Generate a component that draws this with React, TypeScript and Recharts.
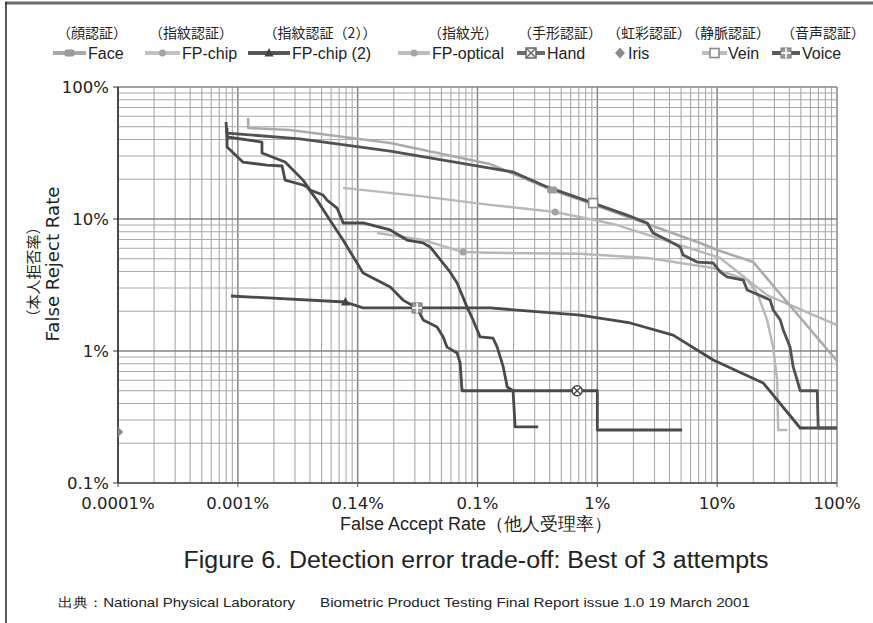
import React from 'react';
import { ComposedChart, Line, XAxis, YAxis, ReferenceLine } from 'recharts';

// ---------- axis ticks ----------
const xTicks = [0.0001, 0.001, 0.01, 0.1, 1, 10, 100];
const xTickLabels = ['0.0001%', '0.001%', '0.14%', '0.1%', '1%', '10%', '100%'];
const yTicks = [0.1, 1, 10, 100];
const yTickLabels = ['0.1%', '1%', '10%', '100%'];

// ---------- series names ----------
const seriesNames = ['Face', 'FP-chip', 'FP-chip (2)', 'FP-optical', 'Hand', 'Iris', 'Vein', 'Voice'];
const seriesJapanese = ['（顔認証）', '（指紋認証）', '（指紋認証（2））', '（指紋光）', '（手形認証）', '（虹彩認証）', '（静脈認証）', '（音声認証）'];

// ---------- series values: x = False Accept Rate (%), y = False Reject Rate (%) ----------
const faceData = [
  { x: 0.00122, y: 58.2 }, { x: 0.00122, y: 48.9 }, { x: 0.00273, y: 47.2 }, { x: 0.0187, y: 37.7 },
  { x: 0.127, y: 26.1 }, { x: 0.42, y: 16.6 }, { x: 1.06, y: 12.3 }, { x: 2.76, y: 9.01 },
  { x: 7.2, y: 6.58 }, { x: 10, y: 5.82 }, { x: 20, y: 4.72 }, { x: 100, y: 0.84 },
];
const fpChipData = [
  { x: 0.00755, y: 17.2 }, { x: 0.0332, y: 14.9 }, { x: 0.127, y: 12.8 }, { x: 0.445, y: 11.3 },
  { x: 1.355, y: 9.17 }, { x: 4.91, y: 6.35 }, { x: 10.6, y: 5.07 }, { x: 26.1, y: 2.65 }, { x: 100, y: 1.57 },
];
const fpChip2Data = [
  { x: 0.000877, y: 2.61 }, { x: 0.00785, y: 2.35 }, { x: 0.0111, y: 2.12 }, { x: 0.127, y: 2.12 },
  { x: 0.718, y: 1.87 }, { x: 1.88, y: 1.63 }, { x: 4.29, y: 1.32 }, { x: 9.27, y: 0.855 },
  { x: 24.2, y: 0.573 }, { x: 49.3, y: 0.261 }, { x: 100, y: 0.261 },
];
const fpOpticalData = [
  { x: 0.0145, y: 7.83 }, { x: 0.0352, y: 6.93 }, { x: 0.0759, y: 5.62 }, { x: 0.127, y: 5.55 },
  { x: 0.718, y: 5.45 }, { x: 2.61, y: 5.07 }, { x: 4.91, y: 4.64 }, { x: 9.27, y: 4.25 },
  { x: 17.8, y: 3.45 }, { x: 21.6, y: 2.75 }, { x: 26.1, y: 1.72 }, { x: 29.3, y: 1.07 },
  { x: 31.7, y: 0.603 }, { x: 32.3, y: 0.252 }, { x: 38.4, y: 0.252 },
];
const handData = [
  { x: 0.000813, y: 48.9 }, { x: 0.000813, y: 35.1 }, { x: 0.0011, y: 27.0 }, { x: 0.00175, y: 25.6 },
  { x: 0.00234, y: 25.2 }, { x: 0.00248, y: 19.7 }, { x: 0.0035, y: 18.1 }, { x: 0.00378, y: 17.5 },
  { x: 0.00458, y: 13.9 }, { x: 0.00588, y: 9.8 }, { x: 0.00755, y: 6.93 }, { x: 0.0111, y: 3.9 },
  { x: 0.0187, y: 3.05 }, { x: 0.0239, y: 2.43 }, { x: 0.0313, y: 2.12 }, { x: 0.0352, y: 1.72 },
  { x: 0.046, y: 1.52 }, { x: 0.0516, y: 1.28 }, { x: 0.0557, y: 1.07 }, { x: 0.0676, y: 0.966 },
  { x: 0.0716, y: 0.812 }, { x: 0.0743, y: 0.5 }, { x: 0.678, y: 0.5 }, { x: 1.0, y: 0.5 },
  { x: 1.0, y: 0.252 }, { x: 5.1, y: 0.252 },
];
const irisData = [{ x: 0.0001, y: 0.243 }];
const veinData = [
  { x: 0.000813, y: 44.8 }, { x: 0.0033, y: 40.4 }, { x: 0.0187, y: 32.7 }, { x: 0.127, y: 24.3 },
  { x: 0.198, y: 22.7 }, { x: 0.381, y: 17.5 }, { x: 0.923, y: 13.2 }, { x: 1.77, y: 10.7 },
  { x: 2.61, y: 9.33 }, { x: 2.92, y: 7.83 }, { x: 3.83, y: 6.93 }, { x: 4.91, y: 6.14 },
  { x: 5.2, y: 5.34 }, { x: 6.8, y: 4.72 }, { x: 9.27, y: 4.64 }, { x: 10.6, y: 3.97 },
  { x: 12.1, y: 3.64 }, { x: 16.5, y: 3.45 }, { x: 17.8, y: 2.9 }, { x: 24.2, y: 2.57 },
  { x: 27.7, y: 2.43 }, { x: 29.3, y: 2.05 }, { x: 33.6, y: 1.72 }, { x: 35.6, y: 1.44 },
  { x: 40.6, y: 1.07 }, { x: 43.1, y: 0.757 }, { x: 46.5, y: 0.603 }, { x: 49.3, y: 0.5 },
  { x: 68.4, y: 0.5 }, { x: 69.7, y: 0.261 }, { x: 100, y: 0.261 },
];
const voiceData = [
  { x: 0.000797, y: 54.3 }, { x: 0.000813, y: 41.8 }, { x: 0.00159, y: 38.3 }, { x: 0.00159, y: 31.6 },
  { x: 0.00248, y: 27.0 }, { x: 0.0035, y: 19.7 }, { x: 0.00401, y: 16.6 }, { x: 0.00514, y: 15.2 },
  { x: 0.00555, y: 13.9 }, { x: 0.00673, y: 12.1 }, { x: 0.00741, y: 9.8 }, { x: 0.00755, y: 9.33 },
  { x: 0.0111, y: 9.33 }, { x: 0.0187, y: 8.26 }, { x: 0.0258, y: 6.93 }, { x: 0.0352, y: 6.58 },
  { x: 0.0402, y: 6.14 }, { x: 0.0516, y: 4.64 }, { x: 0.059, y: 3.97 }, { x: 0.0676, y: 3.27 },
  { x: 0.0818, y: 2.15 }, { x: 0.0918, y: 1.72 }, { x: 0.105, y: 1.28 }, { x: 0.135, y: 1.25 },
  { x: 0.146, y: 1.07 }, { x: 0.164, y: 0.757 }, { x: 0.177, y: 0.534 }, { x: 0.198, y: 0.5 },
  { x: 0.206, y: 0.266 }, { x: 0.321, y: 0.266 },
];

// single marker points drawn on the curves
const faceMarker = [{ x: 0.42, y: 16.6 }];
const fpChipMarker = [{ x: 0.445, y: 11.3 }];
const fpChip2Marker = [{ x: 0.0079, y: 2.35 }];
const fpOpticalMarker = [{ x: 0.0759, y: 5.62 }];
const handMarker = [{ x: 0.678, y: 0.5 }];
const veinMarker = [{ x: 0.923, y: 13.2 }];
const voiceMarker = [{ x: 0.0313, y: 2.12 }];

// ---------- styling ----------
const DARK = '#4a4a4a';
const LIGHT = '#ababab';
const LIGHT2 = '#b8b8b8';
const LATIN = 'Liberation Sans, Arial, sans-serif';
const CJK = 'Noto Sans CJK JP, sans-serif';
const DIGITS = 'DejaVu Sans, sans-serif';

const gridX: number[] = [];
for (let e = -4; e <= 1; e++) for (let m = 1; m <= 9; m++) gridX.push(m * Math.pow(10, e));
gridX.push(100);
const gridY: number[] = [];
for (let e = -1; e <= 1; e++) for (let m = 1; m <= 9; m++) gridY.push(m * Math.pow(10, e));
gridY.push(100);
const isMajor = (v: number) => Math.abs(Math.log10(v) - Math.round(Math.log10(v))) < 1e-6;

const labelFor = (ticks: number[], labels: string[]) => (v: number) => {
  const i = ticks.findIndex((t) => Math.abs(Math.log10(t) - Math.log10(v)) < 1e-6);
  return i >= 0 ? labels[i] : '';
};

function Marker({ kind, cx, cy }: { kind: string; cx: number; cy: number }) {
  if (cx == null || cy == null || isNaN(cx) || isNaN(cy)) return <g />;
  switch (kind) {
    case 'blob':
      return <rect x={cx - 5} y={cy - 3.5} width={10} height={7} rx={2} fill="#9c9c9c" />;
    case 'dot':
      return <circle cx={cx} cy={cy} r={3.5} fill="#a4a4a4" />;
    case 'tri':
      return <polygon points={`${cx},${cy - 5} ${cx - 4.5},${cy + 3.5} ${cx + 4.5},${cy + 3.5}`} fill="#444" />;
    case 'xcircle':
      return (
        <g>
          <circle cx={cx} cy={cy} r={5} fill="#fff" stroke="#444" strokeWidth={1.5} />
          <line x1={cx - 3.3} y1={cy - 3.3} x2={cx + 3.3} y2={cy + 3.3} stroke="#444" strokeWidth={1.3} />
          <line x1={cx - 3.3} y1={cy + 3.3} x2={cx + 3.3} y2={cy - 3.3} stroke="#444" strokeWidth={1.3} />
        </g>
      );
    case 'xsquare':
      return (
        <g>
          <rect x={cx - 5} y={cy - 5} width={10} height={10} fill="#eee" stroke="#666" strokeWidth={1.5} />
          <line x1={cx - 4} y1={cy - 4} x2={cx + 4} y2={cy + 4} stroke="#666" strokeWidth={1.3} />
          <line x1={cx - 4} y1={cy + 4} x2={cx + 4} y2={cy - 4} stroke="#666" strokeWidth={1.3} />
        </g>
      );
    case 'sq':
      return <rect x={cx - 4.5} y={cy - 4.5} width={9} height={9} fill="#fff" stroke="#8a8a8a" strokeWidth={1.6} />;
    case 'plussq':
      return (
        <g>
          <rect x={cx - 5} y={cy - 5} width={10} height={10} fill="#9a9a9a" stroke="#777" strokeWidth={1} />
          <line x1={cx} y1={cy - 5} x2={cx} y2={cy + 5} stroke="#fff" strokeWidth={1.6} />
          <line x1={cx - 5} y1={cy} x2={cx + 5} y2={cy} stroke="#fff" strokeWidth={1.6} />
        </g>
      );
    case 'diamond':
      return <polygon points={`${cx},${cy - 5.5} ${cx + 5},${cy} ${cx},${cy + 5.5} ${cx - 5},${cy}`} fill="#8a8a8a" />;
    default:
      return <g />;
  }
}

const markerDot = (kind: string) => (p: any) => <Marker key={`${kind}-${p.index}`} kind={kind} cx={p.cx} cy={p.cy} />;

// legend layout
const legendLayout = [
  { tx: 88, jx: 92, i1: 53, i2: 86, color: '#a8a8a8', kind: 'blob' },
  { tx: 182, jx: 191, i1: 145, i2: 180, color: '#c2c2c2', kind: 'dot' },
  { tx: 292, jx: 320, i1: 248, i2: 290, color: '#555', kind: 'tri' },
  { tx: 432, jx: 463, i1: 398, i2: 430, color: '#bdbdbd', kind: 'dot' },
  { tx: 547, jx: 560, i1: 517, i2: 545, color: '#6a6a6a', kind: 'xsquare' },
  { tx: 628, jx: 649, i1: 620, i2: 620, color: '#8a8a8a', kind: 'diamond' },
  { tx: 728, jx: 728, i1: 702, i2: 727, color: '#bdbdbd', kind: 'sq' },
  { tx: 802, jx: 823, i1: 772, i2: 800, color: '#5a5a5a', kind: 'plussq' },
];

export default function App() {
  const lineProps = { type: 'linear' as const, dataKey: 'y', dot: false, activeDot: false, isAnimationActive: false, strokeLinejoin: 'round' as const };
  const markProps = { type: 'linear' as const, dataKey: 'y', stroke: 'none', activeDot: false, isAnimationActive: false };
  return (
    <div style={{ position: 'absolute', left: 0, top: 0, width: 873, height: 623, background: '#fff', overflow: 'hidden' }}>
      <ComposedChart width={873} height={623} margin={{ top: 87, right: 36, bottom: 100, left: 58 }}>
        <XAxis
          type="number" dataKey="x" scale="log" domain={[0.0001, 100]} allowDataOverflow
          ticks={xTicks} interval={0} tickFormatter={labelFor(xTicks, xTickLabels)}
          height={40} tickSize={4} tickMargin={10}
          axisLine={{ stroke: '#555', strokeWidth: 1.5 }} tickLine={{ stroke: '#555' }}
          tick={{ fill: '#222', fontSize: 16.5, fontFamily: DIGITS }}
        />
        <YAxis
          type="number" scale="log" domain={[0.1, 100]} allowDataOverflow
          ticks={yTicks} interval={0} tickFormatter={labelFor(yTicks, yTickLabels)}
          width={60} tickSize={5} tickMargin={4}
          axisLine={{ stroke: '#333', strokeWidth: 1.6 }} tickLine={{ stroke: '#333' }}
          tick={{ fill: '#222', fontSize: 16.5, fontFamily: DIGITS }}
        />
        {gridX.map((v) => (
          <ReferenceLine key={'gx' + v} x={v} stroke={isMajor(v) ? '#858585' : '#a9a9a9'} strokeWidth={isMajor(v) ? 1.5 : 1.1} />
        ))}
        {gridY.map((v) => (
          <ReferenceLine key={'gy' + v} y={v} stroke={isMajor(v) ? '#858585' : '#a9a9a9'} strokeWidth={isMajor(v) ? 1.5 : 1.1} />
        ))}
        <Line {...lineProps} name={seriesNames[3]} data={fpOpticalData} stroke={LIGHT2} strokeWidth={2.4} />
        <Line {...lineProps} name={seriesNames[1]} data={fpChipData} stroke={LIGHT2} strokeWidth={2.4} />
        <Line {...lineProps} name={seriesNames[0]} data={faceData} stroke={LIGHT} strokeWidth={2.6} />
        <Line {...lineProps} name={seriesNames[2]} data={fpChip2Data} stroke={DARK} strokeWidth={2.8} />
        <Line {...lineProps} name={seriesNames[7]} data={voiceData} stroke={DARK} strokeWidth={2.8} />
        <Line {...lineProps} name={seriesNames[4]} data={handData} stroke={DARK} strokeWidth={2.8} />
        <Line {...lineProps} name={seriesNames[6]} data={veinData} stroke={'#525252'} strokeWidth={2.8} />
        <Line {...markProps} name="face-mk" data={faceMarker} dot={markerDot('blob')} />
        <Line {...markProps} name="fpchip-mk" data={fpChipMarker} dot={markerDot('dot')} />
        <Line {...markProps} name="fpopt-mk" data={fpOpticalMarker} dot={markerDot('dot')} />
        <Line {...markProps} name="fpchip2-mk" data={fpChip2Marker} dot={markerDot('tri')} />
        <Line {...markProps} name="hand-mk" data={handMarker} dot={markerDot('xcircle')} />
        <Line {...markProps} name="vein-mk" data={veinMarker} dot={markerDot('sq')} />
        <Line {...markProps} name="voice-mk" data={voiceMarker} dot={markerDot('plussq')} />
        <Line {...markProps} name={seriesNames[5]} data={irisData} dot={markerDot('diamond')} />
      </ComposedChart>
      <svg width={873} height={623} style={{ position: 'absolute', left: 0, top: 0, pointerEvents: 'none' }}>
        {/* frame */}
        <line x1={5} y1={3} x2={873} y2={3} stroke="#6b6b6b" strokeWidth={3} />
        <line x1={6} y1={2} x2={6} y2={623} stroke="#222" strokeWidth={1.5} />
        {/* legend */}
        {legendLayout.map((l, i) => (
          <g key={'lg' + i}>
            <text x={l.jx} y={32} textAnchor="middle" dominantBaseline="central" fontFamily={CJK} fontSize={14} fill="#222">
              {seriesJapanese[i]}
            </text>
            {l.i2 > l.i1 && <line x1={l.i1} y1={53} x2={l.i2} y2={53} stroke={l.color} strokeWidth={4} />}
            <Marker kind={l.kind} cx={(l.i1 + l.i2) / 2} cy={53} />
            <text x={l.tx} y={53} dominantBaseline="central" fontFamily={LATIN} fontSize={16} fill="#222">
              {seriesNames[i]}
            </text>
          </g>
        ))}
        {/* y axis title */}
        <text transform="translate(53,264) rotate(-90)" textAnchor="middle" dominantBaseline="central" fontFamily={DIGITS} fontSize={17} fill="#222" textLength={155} lengthAdjust="spacingAndGlyphs">
          False Reject Rate
        </text>
        <text transform="translate(32,272) rotate(-90)" textAnchor="middle" dominantBaseline="central" fontFamily={CJK} fontSize={15} fill="#222">
          （本人拒否率）
        </text>
        {/* x axis title */}
        <text x={476} y={524} textAnchor="middle" dominantBaseline="central" fontFamily={LATIN} fontSize={18} fill="#222" textLength={272} lengthAdjust="spacingAndGlyphs">
          False Accept Rate（他人受理率）
        </text>
        {/* figure caption */}
        <text x={476} y={560} textAnchor="middle" dominantBaseline="central" fontFamily={LATIN} fontSize={23} fill="#222" textLength={585} lengthAdjust="spacingAndGlyphs">
          Figure 6. Detection error trade-off: Best of 3 attempts
        </text>
        {/* source */}
        <text x={58} y={602} dominantBaseline="central" fontFamily={LATIN} fontSize={13} fill="#222" textLength={237} lengthAdjust="spacingAndGlyphs">
          出典：National Physical Laboratory
        </text>
        <text x={320} y={602} dominantBaseline="central" fontFamily={LATIN} fontSize={13} fill="#222" textLength={430} lengthAdjust="spacingAndGlyphs">
          Biometric Product Testing Final Report issue 1.0 19 March 2001
        </text>
      </svg>
    </div>
  );
}
